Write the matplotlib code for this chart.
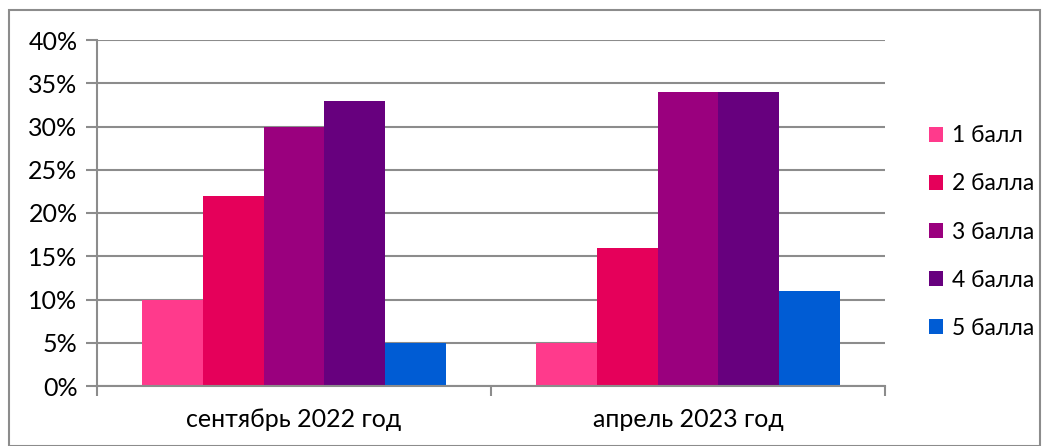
import numpy as np
import matplotlib
matplotlib.use('Agg')
from matplotlib import pyplot as plt
from matplotlib.patches import Rectangle

# данные
categories = ['сентябрь 2022 год', 'апрель 2023 год']
series_names = ['1 балл', '2 балла', '3 балла', '4 балла', '5 балла']
values = [
    [10, 5],   # 1 балл
    [22, 16],  # 2 балла
    [30, 34],  # 3 балла
    [33, 34],  # 4 балла
    [5, 11],   # 5 балла
]
colors = ['#FF3A8C', '#E5005A', '#9A007E', '#67007E', '#005CD4']
y_ticks = [0, 5, 10, 15, 20, 25, 30, 35, 40]

plt.rcParams['font.family'] = ['Lato', 'DejaVu Sans']

fig = plt.figure(figsize=(10.49, 4.46), dpi=100)
# рамка вокруг диаграммы
fig.patches.append(Rectangle((9 / 1049, 0), (1040 - 9) / 1049, (446 - 10) / 446,
                             transform=fig.transFigure, fill=False,
                             edgecolor='#8c8c8c', linewidth=1.5))

ax = fig.add_axes([97 / 1049, (446 - 386) / 446, (885 - 97) / 1049, (386 - 40) / 446])

n = len(series_names)
width = 1 / (n + 1.5)
x = np.arange(len(categories))
for i in range(n):
    ax.bar(x + (i - (n - 1) / 2) * width, values[i], width,
           color=colors[i], label=series_names[i], zorder=2)

ax.set_xlim(-0.5, len(categories) - 0.5)
ax.set_ylim(0, 40)
ax.set_yticks(y_ticks)
ax.set_yticklabels([f'{v}%' for v in y_ticks])
ax.yaxis.grid(True, color='#8c8c8c', linewidth=1.5, zorder=0)
ax.set_axisbelow(True)

ax.set_xticks(x)
ax.set_xticklabels(categories)
ax.set_xticks([-0.5, 0.5, 1.5], minor=True)
ax.tick_params(axis='x', which='major', length=0, labelsize=18, pad=16)
ax.tick_params(axis='x', which='minor', length=7, width=1.5, color='#8c8c8c')
ax.tick_params(axis='y', length=8, width=1.5, color='#8c8c8c', labelsize=18, pad=6)

for s in ['top', 'right']:
    ax.spines[s].set_visible(False)
for s in ['left', 'bottom']:
    ax.spines[s].set_color('#8c8c8c')
    ax.spines[s].set_linewidth(1.5)

ax.legend(loc='center left', bbox_to_anchor=(1.036, 0.445), frameon=False,
          fontsize=16.5, handlelength=0.6, handleheight=0.6, handletextpad=0.4,
          labelspacing=1.18, borderaxespad=0.3)

fig.savefig('out.png', dpi=100)
